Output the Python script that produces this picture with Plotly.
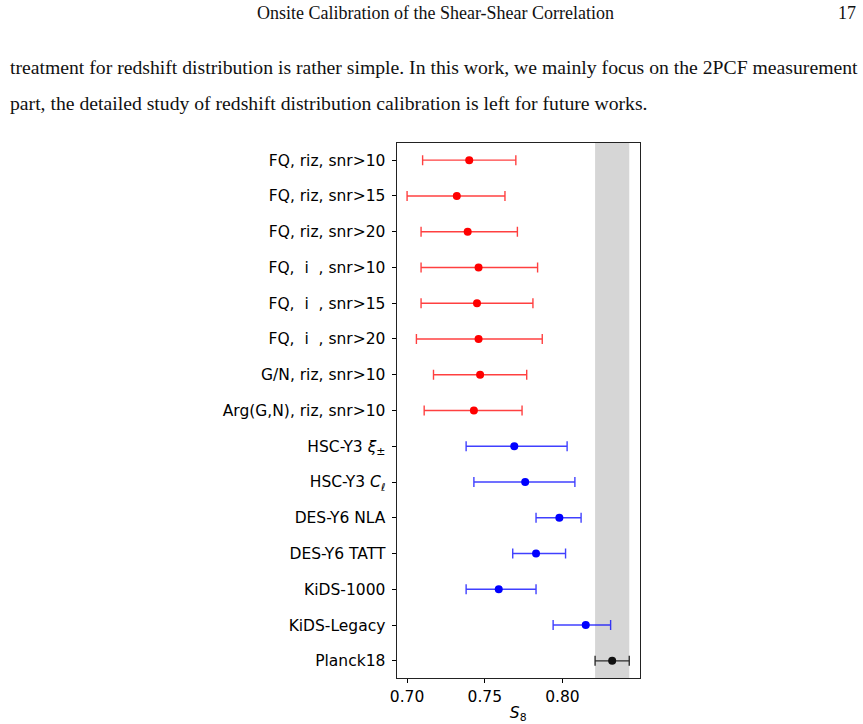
import plotly.graph_objects as go

labels = ["FQ, riz, snr>10", "FQ, riz, snr>15", "FQ, riz, snr>20",
          "FQ,  i  , snr>10", "FQ,  i  , snr>15", "FQ,  i  , snr>20",
          "G/N, riz, snr>10", "Arg(G,N), riz, snr>10",
          "HSC-Y3 <i>ξ</i><sub>±</sub>", "HSC-Y3 <i>C</i><sub><i>ℓ</i></sub>",
          "DES-Y6 NLA", "DES-Y6 TATT", "KiDS-1000", "KiDS-Legacy", "Planck18"]
s8 = [0.740, 0.732, 0.739, 0.746, 0.745, 0.746, 0.747, 0.743,
      0.769, 0.776, 0.798, 0.783, 0.759, 0.815, 0.832]
err_lo = [0.030, 0.032, 0.030, 0.037, 0.036, 0.040, 0.030, 0.032,
          0.031, 0.033, 0.015, 0.015, 0.021, 0.021, 0.011]
err_hi = [0.030, 0.031, 0.032, 0.038, 0.036, 0.041, 0.030, 0.031,
          0.034, 0.032, 0.014, 0.019, 0.024, 0.016, 0.011]
groups = ["ours"] * 8 + ["survey"] * 6 + ["cmb"]
planck_band = [0.821, 0.843]
xticks = [0.70, 0.75, 0.80]

colors = {"ours": ("#ff0000", "rgba(255,0,0,0.75)"),
          "survey": ("#0000ff", "rgba(0,0,255,0.75)"),
          "cmb": ("#111111", "rgba(0,0,0,0.8)")}

n = len(labels)
ypos = [n - 1 - i for i in range(n)]

fig = go.Figure()
for g in ["ours", "survey", "cmb"]:
    idx = [i for i in range(n) if groups[i] == g]
    mc, ec = colors[g]
    fig.add_trace(go.Scatter(
        x=[s8[i] for i in idx], y=[ypos[i] for i in idx], mode="markers",
        marker=dict(color=mc, size=8),
        error_x=dict(type="data", symmetric=False,
                     array=[err_hi[i] for i in idx],
                     arrayminus=[err_lo[i] for i in idx],
                     color=ec, thickness=1.4, width=5),
        showlegend=False))

fig.add_shape(type="rect", xref="x", yref="y domain", x0=planck_band[0], x1=planck_band[1],
              y0=0, y1=1, fillcolor="rgb(214,214,214)", line_width=0, layer="below")

W, H = 863, 724
x0p, x1p = 392.7 / W, 638 / W
y_top, y_bot = 1 - 143 / H, 1 - 678 / H

fig.update_layout(
    width=W, height=H, margin=dict(l=0, r=0, t=0, b=0),
    paper_bgcolor="white", plot_bgcolor="white",
    font=dict(family="DejaVu Sans", size=15.5, color="black"),
    xaxis=dict(domain=[x0p, x1p], range=[0.6932, 0.8498], tickvals=xticks,
               ticktext=[f"{v:.2f}" for v in xticks], ticks="outside", ticklen=4,
               tickcolor="black", showgrid=False, zeroline=False,
               showline=True, linecolor="#222", linewidth=1, mirror=True,
               tickfont=dict(size=15.5),
               title=dict(text="<i>S</i><sub>8</sub>", font=dict(size=15.5), standoff=2)),
    yaxis=dict(domain=[y_bot, y_top], range=[-0.48, n - 1 + 0.48], tickvals=ypos,
               ticktext=labels, ticks="outside", ticklen=4, tickcolor="black",
               ticklabelstandoff=3,
               showgrid=False, zeroline=False, showline=True, linecolor="#222",
               linewidth=1, mirror=True, tickfont=dict(size=15.5)),
)

serif = "Liberation Serif"
fig.add_annotation(text="Onsite Calibration of the Shear-Shear Correlation", xref="paper", yref="paper",
                   x=432 / W, y=1 - 13 / H, showarrow=False, xanchor="center", yanchor="middle",
                   font=dict(family=serif, size=18, color="#111"))
fig.add_annotation(text="17", xref="paper", yref="paper", x=858 / W, y=1 - 13 / H, showarrow=False,
                   xanchor="right", yanchor="middle", font=dict(family=serif, size=18, color="#111"))
fig.add_annotation(text="treatment for redshift distribution is rather simple. In this work, we mainly focus on the 2PCF measurement",
                   xref="paper", yref="paper", x=1 / W, y=1 - 67 / H, showarrow=False,
                   xanchor="left", yanchor="middle", font=dict(family=serif, size=19.7, color="#111"))
fig.add_annotation(text="part, the detailed study of redshift distribution calibration is left for future works.",
                   xref="paper", yref="paper", x=1 / W, y=1 - 103 / H, showarrow=False,
                   xanchor="left", yanchor="middle", font=dict(family=serif, size=19.7, color="#111"))

fig.write_html("out.html")
